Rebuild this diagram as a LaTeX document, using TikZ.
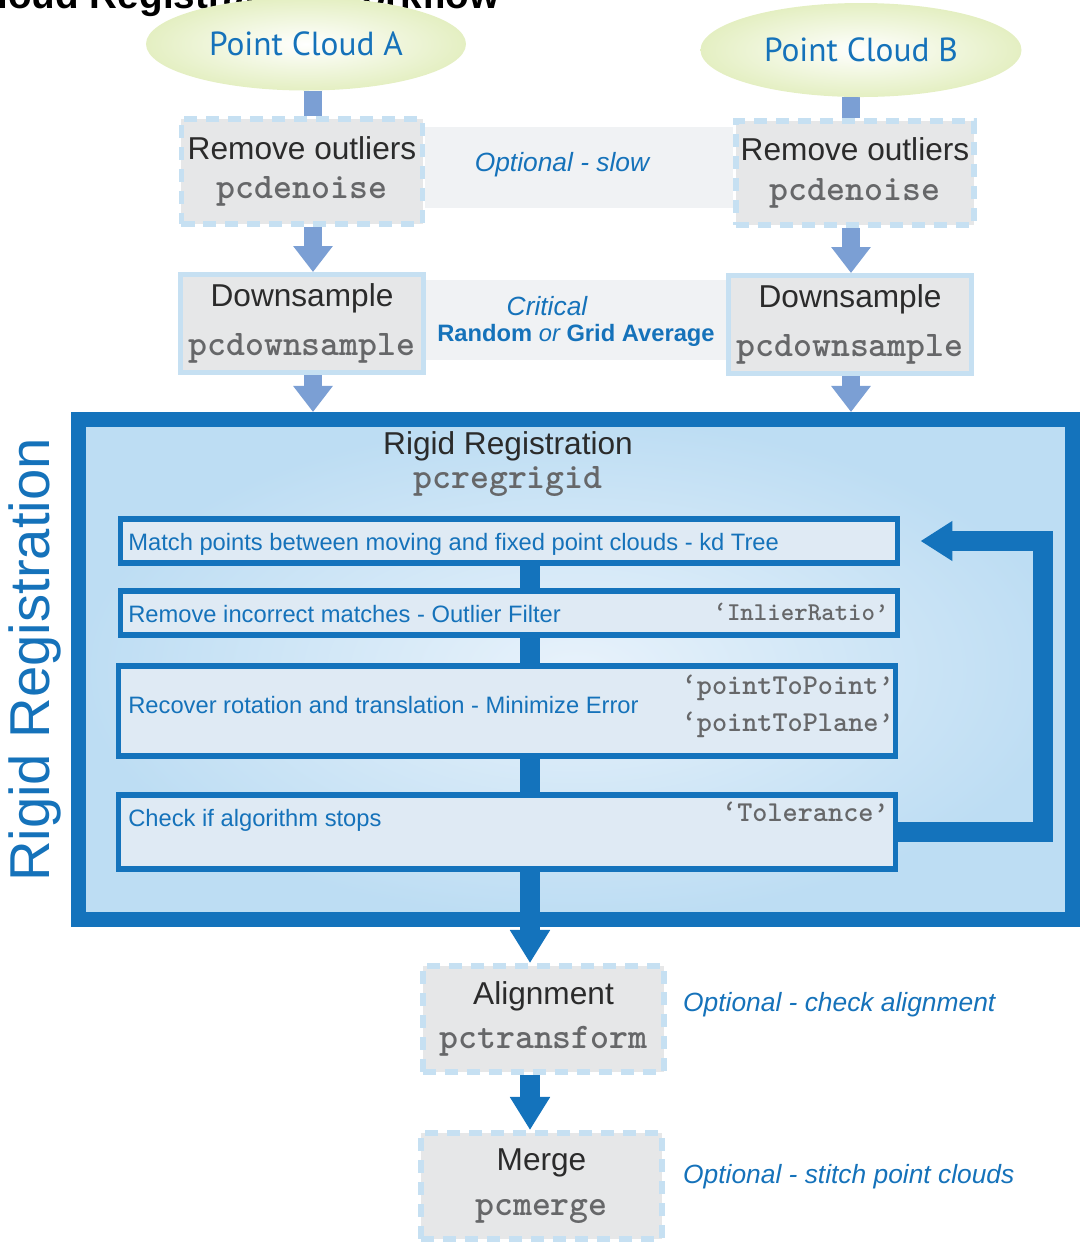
\documentclass[tikz,border=0pt]{standalone}
\usepackage{fontspec}
\setmainfont{Liberation Sans}
\newfontfamily\cloudfont{PT Sans}
\usetikzlibrary{positioning,shapes.geometric,arrows.meta}
\definecolor{mwblue}{HTML}{1473BC}
\definecolor{txtblue}{HTML}{1572BA}
\definecolor{pale}{HTML}{7B9FD4}
\definecolor{dashblue}{HTML}{C6E0F2}
\definecolor{boxgray}{HTML}{E6E7E8}
\definecolor{bandgray}{HTML}{F0F2F4}
\definecolor{stagefill}{HTML}{DFEAF4}
\definecolor{frameedge}{HTML}{BDDDF3}
\definecolor{framemid}{HTML}{E8F2FB}
\definecolor{cloudgreen}{HTML}{E4EFC2}
\definecolor{codegray}{HTML}{666769}
\definecolor{titlegray}{HTML}{2B2B2B}
\newcommand{\funcname}[1]{{\ttfamily\bfseries\fontsize{20.5}{22}\selectfont\color{codegray}#1}}
\pgfdeclarelayer{bg}
\pgfsetlayers{bg,main}

\begin{document}
\begin{tikzpicture}[x=0.2mm, y=-0.2mm,
  cloud/.style={ellipse, inner sep=0pt, inner color=white, outer color=cloudgreen,
    text=txtblue, font=\cloudfont\fontsize{19}{23}\selectfont},
  optbox/.style={rectangle, draw=dashblue, line width=3.4pt, dash pattern=on 7.4pt off 5.1pt,
    fill=boxgray, inner sep=0pt, minimum width=48.2mm, minimum height=21mm,
    align=center, text=titlegray, font=\fontsize{18}{22.5}\selectfont},
  reqbox/.style={optbox, solid, line width=2.8pt, minimum width=48.6mm, minimum height=19.6mm},
  stage/.style={rectangle, draw=mwblue, line width=3.4pt, fill=stagefill, inner sep=0pt,
    minimum width=155.4mm},
  stagetext/.style={anchor=west, inner sep=0pt, text=txtblue, font=\fontsize{13.5}{16}\selectfont},
  optname/.style={anchor=east, inner sep=0pt, font=\ttfamily\bfseries\fontsize{16.4}{18}\selectfont, text=codegray},
  note/.style={text=txtblue, font=\itshape\fontsize{15}{18}\selectfont},
  palebar/.style={draw=pale, line width=10.2pt},
  palearrow/.style={palebar, -{Triangle[length=14.8pt, width=21.6pt]}},
  flow/.style={draw=mwblue, line width=11pt},
  flowarrow/.style={flow, -{Triangle[length=18.8pt, width=21.6pt]}}]
\useasboundingbox (0,0) rectangle (1080,1245);

% title, mostly off the page
\node[anchor=base west, inner sep=0pt, font=\bfseries\fontsize{22}{26}\selectfont] (title) at (-138,8)
  {Point Cloud Registration Workflow};

% inputs
\node[cloud, minimum width=64mm, minimum height=18.6mm] (cloudA) at (306,44) {Point Cloud A};
\node[cloud, minimum width=64.2mm, minimum height=18.8mm] (cloudB) at (861,50) {Point Cloud B};

% side notes between the two columns
\fill[bandgray] (425,127) rectangle (733,208);
\fill[bandgray] (426,280) rectangle (726,360);
\node[note] (slownote) at (562,165) {Optional - slow};
\node[note] (critnote) at (547,306) {Critical};
\node[text=txtblue, font=\bfseries\fontsize{13.5}{16}\selectfont] (gridnote) at (576,335)
  {Random {\mdseries\itshape or} Grid Average};

% preprocessing
\node[optbox] (rmA) at (302,171.5) {Remove outliers\\\funcname{pcdenoise}};
\node[optbox, minimum width=47.6mm, minimum height=20.8mm] (rmB) at (855,173) {Remove outliers\\\funcname{pcdenoise}};
\node[reqbox] (dsA) at (302,323.5) {Downsample\\[5pt]\funcname{pcdownsample}};
\node[reqbox] (dsB) at (850,324.5) {Downsample\\[5pt]\funcname{pcdownsample}};

% registration frame
\node[rectangle, draw=mwblue, line width=8.54pt, inner color=framemid, outer color=frameedge,
  minimum width=198.8mm, minimum height=100mm, inner sep=0pt] (frame) at (575.5,669.5) {};
\node[rotate=90, text=txtblue, font=\fontsize{32}{38}\selectfont] (sidelabel) at (35,660) {Rigid Registration};
\node[align=center, text=titlegray, font=\fontsize{18}{19}\selectfont] (rigid) at (508,464)
  {Rigid Registration\\\funcname{pcregrigid}};

\node[stage, minimum height=8.8mm] (match) at (509,541) {};
\node[stage, minimum height=8.8mm] (remove) at (509,613) {};
\node[stage, minimum height=18mm] (recover) at (507,711) {};
\node[stage, minimum height=14.8mm] (check) at (507,832) {};

\node[stagetext] (matchtxt) at (128,544) {Match points between moving and fixed point clouds - kd Tree};
\node[stagetext] (removetxt) at (128,614) {Remove incorrect matches - Outlier Filter};
\node[optname, font=\ttfamily\bfseries\fontsize{14.6}{16}\selectfont] (ratio) at (889,612) {‘InlierRatio’};
\node[stagetext] (recovertxt) at (128,705) {Recover rotation and translation - Minimize Error};
\node[optname] (ptpoint) at (894,688) {‘pointToPoint’};
\node[optname] (ptplane) at (894,725) {‘pointToPlane’};
\node[stagetext] (checktxt) at (128,820) {Check if algorithm stops};
\node[optname] (tol) at (889,812) {‘Tolerance’};

% output
\node[optbox, minimum width=48.2mm, minimum height=21.2mm] (align) at (543.5,1019) {Alignment\\[3pt]\funcname{pctransform}};
\node[optbox, minimum width=48.2mm, minimum height=21.2mm] (merge) at (541.5,1186) {Merge\\[3pt]\funcname{pcmerge}};
\node[note, anchor=west] (alignnote) at (677,1005) {Optional - check alignment};
\node[note, anchor=west] (mergenote) at (677,1177) {Optional - stitch point clouds};

% connectors
\coordinate (colA) at (313,0);
\coordinate (colB) at (851,0);
\coordinate (spinex) at (530,0);
\coordinate (loopx) at (1043,0);

\begin{pgfonlayer}{bg}
\draw[palebar] (cloudA.south -| colA) -- (rmA.north -| colA);
\draw[palebar] (cloudB.south -| colB) -- (rmB.north -| colB);
\draw[palearrow] (rmA.south -| colA) -- (dsA.north -| colA);
\draw[palearrow] (rmB.south -| colB) -- (dsB.north -| colB);
\draw[palearrow] (dsA.south -| colA) -- (frame.north -| colA);
\draw[palearrow] (dsB.south -| colB) -- (frame.north -| colB);
\end{pgfonlayer}

\draw[flow] (match.south -| spinex) -- (remove.north -| spinex);
\draw[flow] (remove.south -| spinex) -- (recover.north -| spinex);
\draw[flow] (recover.south -| spinex) -- (check.north -| spinex);
\draw[flowarrow] (check.south -| spinex) -- (align.north -| spinex);
\draw[flowarrow] (align.south -| spinex) -- (merge.north -| spinex);
\draw[flow, line width=11.4pt, -{Triangle[length=18.2pt, width=21.6pt]}]
  (check.east) -| (loopx |- match.east) -- ([xshift=4mm]match.east);
\end{tikzpicture}
\end{document}
